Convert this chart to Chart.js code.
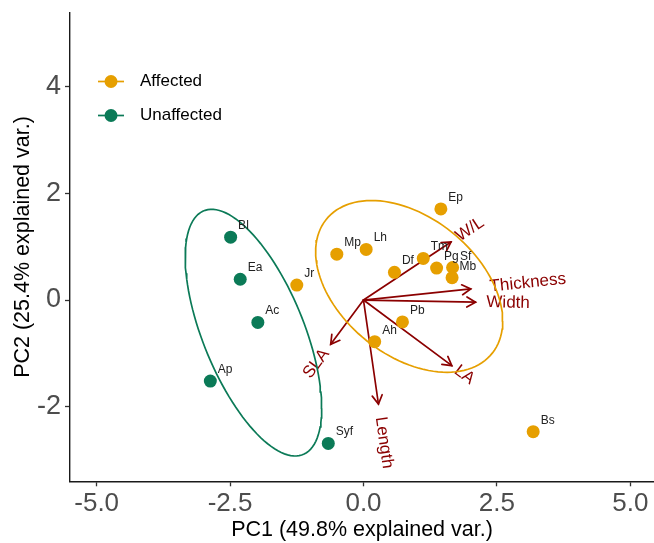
<!DOCTYPE html>
<html>
<head>
<meta charset="utf-8">
<script src="https://cdn.jsdelivr.net/npm/chart.js@4.4.1/dist/chart.umd.min.js"></script>
<style>
  html, body { margin: 0; padding: 0; background: #ffffff; overflow: hidden; }
  canvas { display: block; }
</style>
</head>
<body>
<canvas id="c" width="654" height="543" style="width:654px;height:543px"></canvas>
<script>
// ---------- data ----------
const obsNames  = ['Ep','Bl','Ea','Ac','Ap','Syf','Jr','Mp','Lh','Df','Tm','Pg','Sf','Mb','Pb','Ah','Bs'];
const obsPC1    = [1.45,-2.49,-2.31,-1.98,-2.87,-0.66,-1.25,-0.50,0.05,0.58,1.12,1.37,1.67,1.66,0.73,0.21,3.18];
const obsPC2    = [1.71,1.18,0.39,-0.42,-1.52,-2.69,0.28,0.86,0.95,0.52,0.78,0.60,0.61,0.42,-0.41,-0.78,-2.47];
const obsGroup  = ['Affected','Unaffected','Unaffected','Unaffected','Unaffected','Unaffected','Affected','Affected','Affected','Affected','Affected','Affected','Affected','Affected','Affected','Affected','Affected'];

const groupNames  = ['Affected','Unaffected'];
const groupColors = ['#E69F00','#0B7A57'];

const varNames = ['W/L','Thickness','Width','LA','Length','SLA'];
const varPC1   = [1.64, 2.01, 2.10, 1.655, 0.28, -0.615];
const varPC2   = [1.09, 0.21, -0.04, -1.23, -1.95, -0.83];

const xTicks = [-5, -2.5, 0, 2.5, 5];
const xTickLabels = ['-5.0','-2.5','0.0','2.5','5.0'];
const yTicks = [-2, 0, 2, 4];
const yTickLabels = ['-2','0','2','4'];

const xTitle = 'PC1 (49.8% explained var.)';
const yTitle = 'PC2 (25.4% explained var.)';
const ellipseProb = 0.68;

// ---------- helpers ----------
const FONT = "'Liberation Sans', Arial, Helvetica, sans-serif";
const ARROW_COL = '#8B0000';

function groupPoints(g) {
  const pts = [];
  obsNames.forEach((n, i) => { if (obsGroup[i] === g) pts.push({x: obsPC1[i], y: obsPC2[i], name: n}); });
  return pts;
}
function ellipsePoints(pts, prob) {
  const n = pts.length;
  const mx = pts.reduce((s, p) => s + p.x, 0) / n;
  const my = pts.reduce((s, p) => s + p.y, 0) / n;
  let sxx = 0, syy = 0, sxy = 0;
  pts.forEach(p => { const dx = p.x - mx, dy = p.y - my; sxx += dx*dx; syy += dy*dy; sxy += dx*dy; });
  sxx /= (n - 1); syy /= (n - 1); sxy /= (n - 1);
  const a = Math.sqrt(sxx), b = sxy / a, c = Math.sqrt(syy - b*b);
  const ed = Math.sqrt(-2 * Math.log(1 - prob));
  const out = [];
  for (let k = 0; k <= 120; k++) {
    const t = 2 * Math.PI * k / 120;
    const ct = Math.cos(t), st = Math.sin(t);
    out.push({x: ct * a * ed + mx, y: (ct * b + st * c) * ed + my});
  }
  return out;
}

const datasets = [];
groupNames.forEach((g, gi) => {
  datasets.push({
    type: 'scatter', label: g, data: groupPoints(g),
    backgroundColor: groupColors[gi], borderWidth: 0,
    pointRadius: 6.5, pointHoverRadius: 6.5, order: 2
  });
});
groupNames.forEach((g, gi) => {
  datasets.push({
    type: 'line', label: g + ' ellipse', data: ellipsePoints(groupPoints(g), ellipseProb),
    borderColor: groupColors[gi], borderWidth: 1.7, pointRadius: 0, fill: false,
    tension: 0, showLine: true, order: 1
  });
});

// ---------- plugins ----------
const arrowPlugin = {
  id: 'arrows',
  beforeDatasetsDraw(chart) {
    const {ctx, scales: {x, y}} = chart;
    const x0 = x.getPixelForValue(0), y0 = y.getPixelForValue(0);
    ctx.save();
    ctx.strokeStyle = ARROW_COL;
    ctx.lineWidth = 1.7;
    ctx.lineCap = 'round';
    varNames.forEach((nm, i) => {
      const x1 = x.getPixelForValue(varPC1[i]), y1 = y.getPixelForValue(varPC2[i]);
      ctx.beginPath(); ctx.moveTo(x0, y0); ctx.lineTo(x1, y1); ctx.stroke();
      const ang = Math.atan2(y1 - y0, x1 - x0);
      const L = 10, A = Math.PI / 6;
      ctx.beginPath();
      ctx.moveTo(x1 - L * Math.cos(ang - A), y1 - L * Math.sin(ang - A));
      ctx.lineTo(x1, y1);
      ctx.lineTo(x1 - L * Math.cos(ang + A), y1 - L * Math.sin(ang + A));
      ctx.stroke();
    });
    // variable names (ggbiplot-style placement)
    ctx.fillStyle = ARROW_COL;
    ctx.font = '17px ' + FONT;
    ctx.textBaseline = 'middle';
    varNames.forEach((nm, i) => {
      const x1 = x.getPixelForValue(varPC1[i]), y1 = y.getPixelForValue(varPC2[i]);
      const angle = Math.atan(varPC2[i] / varPC1[i]);
      const w = ctx.measureText(nm).width;
      ctx.save();
      ctx.translate(x1, y1);
      ctx.rotate(-angle);
      if (varPC1[i] >= 0) { ctx.textAlign = 'left'; ctx.fillText(nm, 0.25 * w, 0); }
      else { ctx.textAlign = 'right'; ctx.fillText(nm, -0.25 * w, 0); }
      ctx.restore();
    });
    ctx.restore();
  }
};

const labelPlugin = {
  id: 'obsLabels',
  afterDatasetsDraw(chart) {
    const {ctx, scales: {x, y}} = chart;
    ctx.save();
    ctx.fillStyle = '#222222';
    ctx.font = '12px ' + FONT;
    ctx.textAlign = 'left';
    ctx.textBaseline = 'alphabetic';
    obsNames.forEach((n, i) => {
      const px = x.getPixelForValue(obsPC1[i]), py = y.getPixelForValue(obsPC2[i]);
      ctx.fillText(n, px + 7.5, py - 8);
    });
    // legend
    const legY = [81.5, 115.5];
    ctx.font = '17px ' + FONT;
    ctx.textBaseline = 'middle';
    groupNames.forEach((g, gi) => {
      const ly = legY[gi];
      ctx.strokeStyle = groupColors[gi];
      ctx.lineWidth = 1.7;
      ctx.beginPath(); ctx.moveTo(98, ly); ctx.lineTo(124, ly); ctx.stroke();
      ctx.fillStyle = groupColors[gi];
      ctx.beginPath(); ctx.arc(111, ly, 6.5, 0, Math.PI * 2); ctx.fill();
      ctx.fillStyle = '#000000';
      ctx.fillText(g, 140, ly);
    });
    ctx.restore();
  }
};

// ---------- chart ----------
new Chart(document.getElementById('c'), {
  type: 'scatter',
  data: { datasets },
  options: {
    responsive: false,
    animation: false,
    devicePixelRatio: 1,
    layout: { autoPadding: false, padding: { top: 12.7, right: 0, bottom: 0, left: 0 } },
    plugins: { legend: { display: false }, tooltip: { enabled: false } },
    scales: {
      x: {
        type: 'linear', min: -5.5, max: 5.444,
        afterBuildTicks: s => { s.ticks = xTicks.map(v => ({ value: v })); },
        afterFit: s => { s.height = 61.7; s.paddingLeft = 0; s.paddingRight = 0; },
        ticks: {
          callback: (v, i) => xTickLabels[i],
          font: { size: 26, family: FONT, lineHeight: 1.2 },
          color: '#4D4D4D', padding: 1.5, maxRotation: 0, autoSkip: false
        },
        grid: { drawOnChartArea: false, drawTicks: true, tickLength: 5, tickColor: '#333333', tickWidth: 1.3 },
        border: { display: true, color: '#1a1a1a', width: 1.4 },
        title: { display: true, text: xTitle, color: '#000000',
                 font: { size: 21.5, family: FONT, lineHeight: 1.2 }, padding: { top: 0, bottom: 0.4 } }
      },
      y: {
        type: 'linear', min: -3.40, max: 5.39,
        afterBuildTicks: s => { s.ticks = yTicks.map(v => ({ value: v })); },
        afterFit: s => { s.width = 70; s.paddingTop = 0; s.paddingBottom = 0; },
        ticks: {
          callback: (v, i) => yTickLabels[i],
          font: { size: 27, family: FONT, lineHeight: 1.2 },
          color: '#4D4D4D', padding: 4, autoSkip: false
        },
        grid: { drawOnChartArea: false, drawTicks: true, tickLength: 5, tickColor: '#333333', tickWidth: 1.3 },
        border: { display: true, color: '#1a1a1a', width: 1.4 },
        title: { display: true, text: yTitle, color: '#000000',
                 font: { size: 21.5, family: FONT, lineHeight: 1.2 }, padding: { top: 10, bottom: 0 } }
      }
    }
  },
  plugins: [arrowPlugin, labelPlugin]
});
</script>
</body>
</html>
